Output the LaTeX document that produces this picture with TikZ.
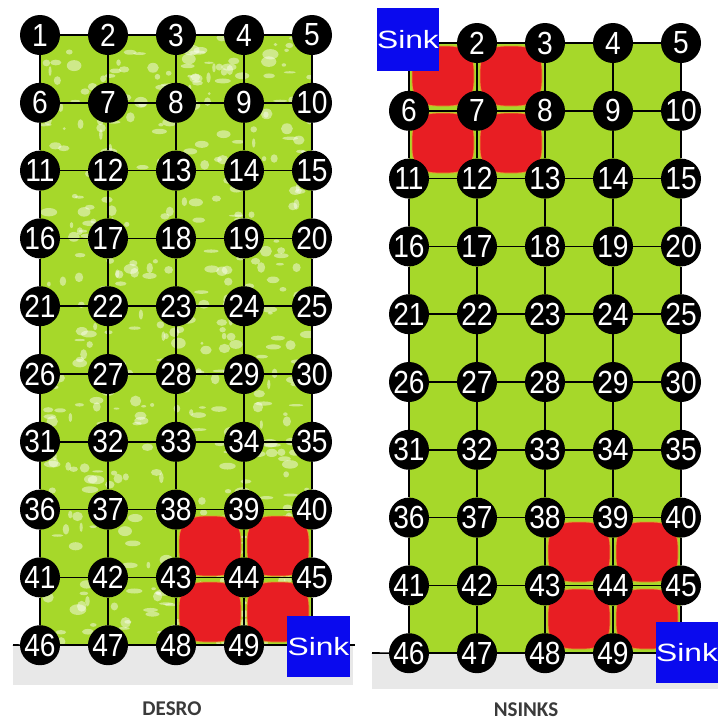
\documentclass[tikz,border=0pt]{standalone}
\usepackage{fontspec}
\newfontfamily\numfont{Liberation Sans}
\newfontfamily\capfont{Carlito}
\definecolor{grn}{HTML}{A6D82A}
\definecolor{blobred}{HTML}{E81E23}
\definecolor{blobedge}{HTML}{E39A2A}
\definecolor{sinkblue}{HTML}{0A0AEE}
\definecolor{band}{HTML}{E8E8E8}
\definecolor{captxt}{HTML}{3A3A3A}
\tikzset{
  gnode/.style={circle,fill=black,minimum size=40pt,inner sep=0pt,text=white,
    font=\numfont\fontsize{32}{32}\selectfont},
  sinkbox/.style={rectangle,fill=sinkblue,inner sep=0pt,text=white,
    font=\numfont\fontsize{25}{25}\selectfont},
  edge/.style={draw=black,line width=1.6pt},
  blob/.style={fill=blobred,draw=blobedge,line width=0.9pt},
  caption/.style={font=\capfont\bfseries\fontsize{21}{21}\selectfont,text=captxt,inner sep=0pt}
}
\begin{document}
\begin{tikzpicture}[x=1pt,y=-1pt]
\useasboundingbox[fill=white] (0,0) rectangle (718,724);
% grey bands
\fill[band] (13,645) rectangle (353,685);
\fill[band] (372,653) rectangle (718,689);
% green areas
\fill[grn] (40,35) rectangle (312,645);
\fill[grn] (409,43) rectangle (681,653);
% speckled texture on left panel
\pgfmathsetseed{17}
\foreach \i in {1,...,480}{
  \pgfmathsetmacro\xx{42+rnd*268}
  \pgfmathsetmacro\yy{37+rnd*606}
  \pgfmathsetmacro\ra{1.5+rnd*7}
  \pgfmathsetmacro\rb{1+rnd*4.5}
  \fill[white,opacity=0.45] (\xx,\yy) ellipse [x radius=\ra pt, y radius=\rb pt];
}
% red blobs (rounded squares)
\foreach \cx/\cy in {210/546, 278/546, 210/612, 278/612,
                     443/76, 511/76, 443/143, 511/143,
                     579/552, 647/552, 579/619, 647/619}{
  \filldraw[blob] (\cx-31,\cy-6) .. controls (\cx-31,\cy-22) and (\cx-22,\cy-30) .. (\cx-6,\cy-30)
     -- (\cx+6,\cy-30) .. controls (\cx+22,\cy-30) and (\cx+31,\cy-22) .. (\cx+31,\cy-6)
     -- (\cx+31,\cy+6) .. controls (\cx+31,\cy+22) and (\cx+22,\cy+30) .. (\cx+6,\cy+30)
     -- (\cx-6,\cy+30) .. controls (\cx-22,\cy+30) and (\cx-31,\cy+22) .. (\cx-31,\cy+6) -- cycle;
}
% sinks
\node[sinkbox,minimum width=63pt,minimum height=61pt] (L50) at (318.5,646.5) {\scalebox{1.27}[1]{Sink}};
\node[sinkbox,minimum width=62pt,minimum height=63pt] (R1) at (408,39.5) {\scalebox{1.27}[1]{Sink}};
\node[sinkbox,minimum width=62pt,minimum height=61pt] (R50) at (687,652.5) {\scalebox{1.27}[1]{Sink}};
% grid nodes
\foreach \r in {0,...,9}{
  \foreach \c in {0,...,4}{
    \pgfmathtruncatemacro\n{\r*5+\c+1}
    \pgfmathsetmacro\xl{40+68*\c}
    \pgfmathsetmacro\yl{35+67.8*\r}
    \pgfmathsetmacro\xr{409+68*\c}
    \pgfmathsetmacro\yr{43+67.8*\r}
    \ifnum\n=50\relax\else
      \node[gnode] (L\n) at (\xl,\yl) {\scalebox{0.88}[1]{\n}};
    \fi
    \ifnum\n=50\relax\else\ifnum\n=1\relax\else
      \node[gnode] (R\n) at (\xr,\yr) {\scalebox{0.88}[1]{\n}};
    \fi\fi
  }
}
% edges
\foreach \r in {0,...,9}{
  \foreach \c in {0,...,3}{
    \pgfmathtruncatemacro\a{\r*5+\c+1}
    \pgfmathtruncatemacro\b{\a+1}
    \ifnum\b=50\relax\else \draw[edge] (L\a) -- (L\b); \fi
    \ifnum\a=1\relax\else\ifnum\b=50\relax\else \draw[edge] (R\a) -- (R\b); \fi\fi
  }
}
\foreach \r in {0,...,8}{
  \foreach \c in {0,...,4}{
    \pgfmathtruncatemacro\a{\r*5+\c+1}
    \pgfmathtruncatemacro\b{\a+5}
    \ifnum\b=50\relax\else \draw[edge] (L\a) -- (L\b); \fi
    \ifnum\a=1\relax\else\ifnum\b=50\relax\else \draw[edge] (R\a) -- (R\b); \fi\fi
  }
}
% edges touching the sinks
\draw[edge] (L49) -- (L49 -| L50.west);
\draw[edge] (L45) -- (L45 |- L50.north);
\draw[edge] (R2) -- (R2 -| R1.east);
\draw[edge] (R6) -- (R6 |- R1.south);
\draw[edge] (R49) -- (R49 -| R50.west);
\draw[edge] (R45) -- (R45 |- R50.north);
\coordinate (Lstart) at (13,645);
\coordinate (Lend) at (355,645);
\coordinate (Rstart) at (372,653);
\draw[edge] (Lstart) -- (L46);
\draw[edge] (L50.east |- Lend) -- (Lend);
\draw[edge] (Rstart) -- (R46);
% captions
\node[caption] (capL) at (172,709) {DESRO};
\node[caption] (capR) at (526,710) {NSINKS};
\end{tikzpicture}
\end{document}
